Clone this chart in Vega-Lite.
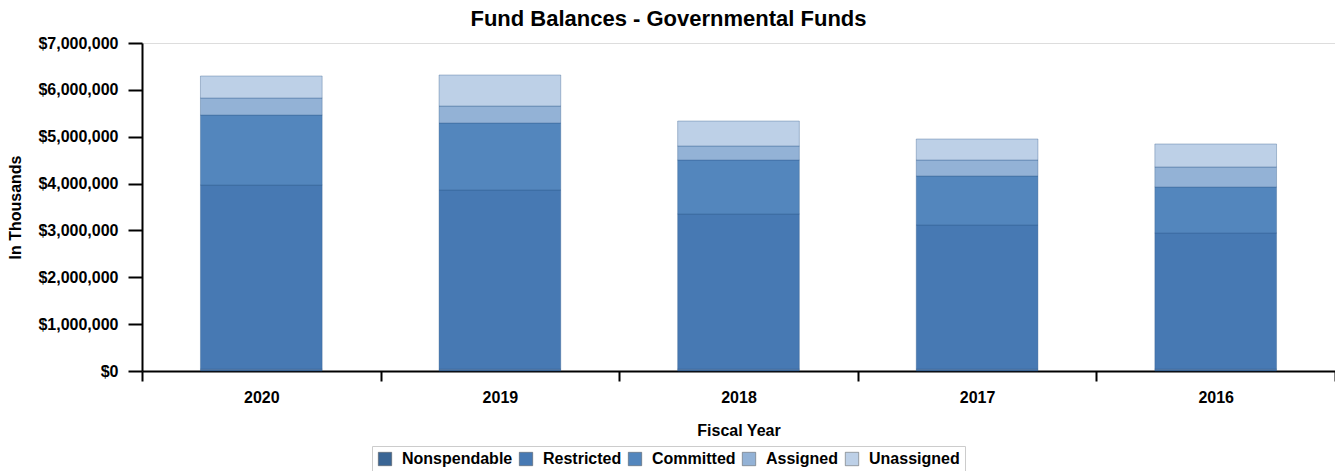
{
  "$schema": "https://vega.github.io/schema/vega-lite/v6.json",
  "autosize": "none",
  "padding": {"left": 142, "top": 43, "right": 0, "bottom": 100},
  "width": 1193,
  "height": 328,
  "background": "white",
  "config": {
    "font": "Liberation Sans",
    "view": {"stroke": "#dddddd", "strokeWidth": 1},
    "axis": {"labelFont": "Liberation Sans", "titleFont": "Liberation Sans", "labelFontWeight": "bold", "titleFontWeight": "bold", "labelColor": "#000", "titleColor": "#000", "labelFontSize": 16, "titleFontSize": 16}
  },
  "title": {"text": "Fund Balances - Governmental Funds", "fontSize": 22, "font": "Liberation Sans", "fontWeight": "bold", "color": "#000", "anchor": "middle", "dx": -70, "offset": 4},
  "data": {"values": [
    {"year": "2020", "category": "Nonspendable", "seq": 1, "amount": 40000},
    {"year": "2020", "category": "Restricted", "seq": 2, "amount": 3929000},
    {"year": "2020", "category": "Committed", "seq": 3, "amount": 1494000},
    {"year": "2020", "category": "Assigned", "seq": 4, "amount": 363000},
    {"year": "2020", "category": "Unassigned", "seq": 5, "amount": 470000},
    {"year": "2019", "category": "Nonspendable", "seq": 1, "amount": 40000},
    {"year": "2019", "category": "Restricted", "seq": 2, "amount": 3823000},
    {"year": "2019", "category": "Committed", "seq": 3, "amount": 1430000},
    {"year": "2019", "category": "Assigned", "seq": 4, "amount": 362000},
    {"year": "2019", "category": "Unassigned", "seq": 5, "amount": 662000},
    {"year": "2018", "category": "Nonspendable", "seq": 1, "amount": 40000},
    {"year": "2018", "category": "Restricted", "seq": 2, "amount": 3311000},
    {"year": "2018", "category": "Committed", "seq": 3, "amount": 1152000},
    {"year": "2018", "category": "Assigned", "seq": 4, "amount": 299000},
    {"year": "2018", "category": "Unassigned", "seq": 5, "amount": 533000},
    {"year": "2017", "category": "Nonspendable", "seq": 1, "amount": 40000},
    {"year": "2017", "category": "Restricted", "seq": 2, "amount": 3076000},
    {"year": "2017", "category": "Committed", "seq": 3, "amount": 1046000},
    {"year": "2017", "category": "Assigned", "seq": 4, "amount": 341000},
    {"year": "2017", "category": "Unassigned", "seq": 5, "amount": 448000},
    {"year": "2016", "category": "Nonspendable", "seq": 1, "amount": 40000},
    {"year": "2016", "category": "Restricted", "seq": 2, "amount": 2905000},
    {"year": "2016", "category": "Committed", "seq": 3, "amount": 982000},
    {"year": "2016", "category": "Assigned", "seq": 4, "amount": 427000},
    {"year": "2016", "category": "Unassigned", "seq": 5, "amount": 491000}
  ]},
  "mark": {"type": "bar", "width": {"band": 0.51}, "stroke": "#2f5a8a", "strokeOpacity": 0.35, "strokeWidth": 1},
  "encoding": {
    "x": {
      "field": "year", "type": "ordinal",
      "sort": ["2020", "2019", "2018", "2017", "2016"],
      "scale": {"paddingInner": 0, "paddingOuter": 0},
      "axis": {"title": "Fiscal Year", "labelAngle": 0, "tickBand": "extent", "tickSize": 10, "tickWidth": 2, "tickColor": "#000", "domainColor": "#000", "domainWidth": 2, "labelPadding": 8, "titlePadding": 17}
    },
    "y": {
      "field": "amount", "type": "quantitative", "stack": "zero",
      "scale": {"domain": [0, 7000000]},
      "axis": {"title": "In Thousands", "format": "$,.0f", "values": [0, 1000000, 2000000, 3000000, 4000000, 5000000, 6000000, 7000000], "labelOverlap": false, "grid": false, "tickSize": 14, "tickWidth": 2, "tickColor": "#000", "domainColor": "#000", "domainWidth": 2, "labelPadding": 10, "titlePadding": 14}
    },
    "color": {
      "field": "category", "type": "nominal",
      "sort": ["Nonspendable", "Restricted", "Committed", "Assigned", "Unassigned"],
      "scale": {"domain": ["Nonspendable", "Restricted", "Committed", "Assigned", "Unassigned"], "range": ["#3a6594", "#4779b3", "#5386bd", "#93b2d6", "#bdd0e7"]},
      "legend": {"title": null, "orient": "none", "legendX": 230, "legendY": 403, "direction": "horizontal", "columns": 5, "symbolType": "square", "symbolSize": 180, "symbolStrokeColor": "#555", "symbolStrokeWidth": 0.5, "labelFont": "Liberation Sans", "labelFontSize": 16, "labelFontWeight": "bold", "labelColor": "#000", "columnPadding": 5, "labelOffset": 9, "strokeColor": "#cccccc", "padding": 5}
    },
    "order": {"field": "seq", "type": "quantitative", "sort": "ascending"}
  }
}
